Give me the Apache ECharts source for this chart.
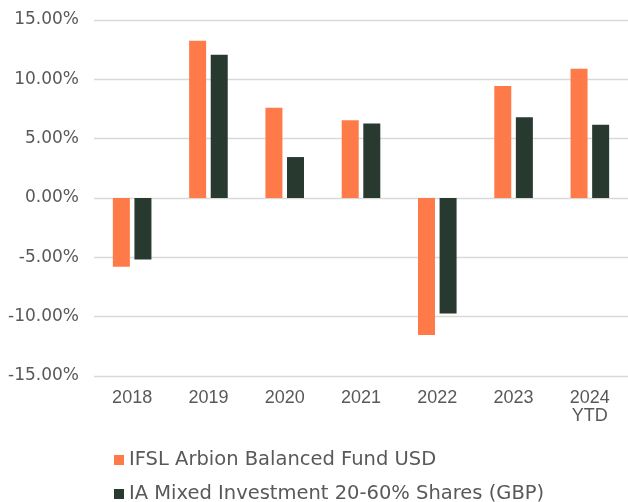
<!DOCTYPE html>
<html>
<head>
<meta charset="utf-8">
<script src="https://cdn.jsdelivr.net/npm/echarts@6/dist/echarts.min.js"></script>
<style>
  html, body { margin: 0; padding: 0; background: #fff; }
  #chart { width: 628px; height: 502px; }
</style>
</head>
<body>
<div id="chart"></div>
<script>
const years = ["2018", "2019", "2020", "2021", "2022", "2023", "2024\nYTD"];
const fundName = "IFSL Arbion Balanced Fund USD";
const sectorName = "IA Mixed Investment 20-60% Shares (GBP)";
const fundValues = [-5.8, 13.26, 7.61, 6.55, -11.54, 9.44, 10.9];
const sectorValues = [-5.19, 12.08, 3.45, 6.27, -9.74, 6.8, 6.18];

const textColor = "#595959";
const gridColor = "#d9d9d9";

const chart = echarts.init(document.getElementById("chart"));

// one legend per row so they stack like the original
const legendRow = (name, top) => ({
  left: 109,
  top: top,
  itemWidth: 10,
  itemHeight: 10,
  icon: "rect",
  textStyle: { fontFamily: "DejaVu Sans", fontSize: 19.5, color: textColor },
  data: [name],
});

chart.setOption({
  animation: false,
  backgroundColor: "#fff",
  grid: { left: 94, right: 0, top: 20, bottom: 126 },
  legend: [legendRow(fundName, 445), legendRow(sectorName, 479)],
  xAxis: {
    type: "category",
    data: years,
    axisLine: { onZero: false, show: false },
    axisTick: { show: false },
    axisLabel: {
      color: textColor,
      fontFamily: "Liberation Sans",
      fontSize: 18,
      lineHeight: 18,
      margin: 13,
    },
  },
  yAxis: {
    type: "value",
    min: -15,
    max: 15,
    interval: 5,
    axisLine: { show: false },
    axisTick: { show: false },
    splitLine: { lineStyle: { color: gridColor, width: 1.3 } },
    axisLabel: {
      color: textColor,
      fontFamily: "DejaVu Sans",
      fontSize: 17,
      margin: 15,
      formatter: (v) => v.toFixed(2) + "%",
    },
  },
  series: [
    {
      name: fundName,
      type: "bar",
      data: fundValues,
      barWidth: 17,
      barGap: "27%",
      itemStyle: { color: "#FF7A49" },
    },
    {
      name: sectorName,
      type: "bar",
      data: sectorValues,
      barWidth: 17,
      itemStyle: { color: "#283930" },
    },
  ],
});
</script>
</body>
</html>
